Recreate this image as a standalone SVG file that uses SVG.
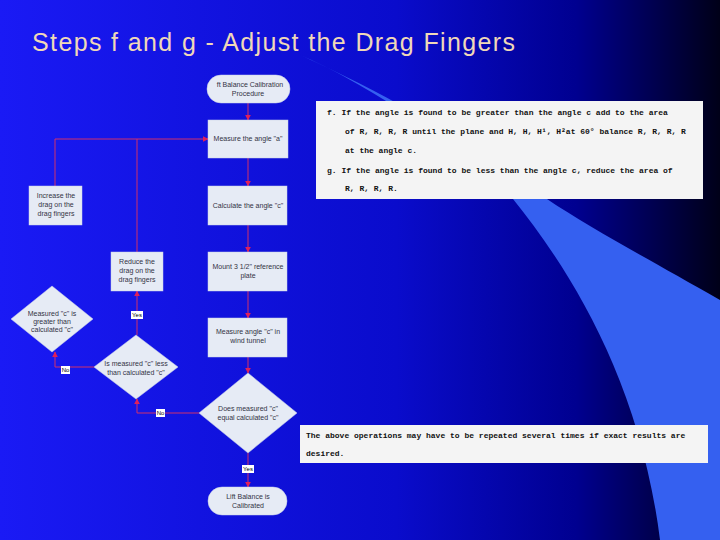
<svg xmlns="http://www.w3.org/2000/svg" width="720" height="540" viewBox="0 0 720 540">
<defs>
<linearGradient id="bg" x1="0" y1="0" x2="1" y2="0">
<stop offset="0" stop-color="#1a1af5"/><stop offset="0.55" stop-color="#0a0ccc"/><stop offset="0.8" stop-color="#000090"/><stop offset="1" stop-color="#000018"/>
</linearGradient>
<marker id="ah" viewBox="0 0 10 10" refX="9" refY="5" markerWidth="6" markerHeight="6" orient="auto"><path d="M0,0L10,5L0,10z" fill="#e0205a"/></marker>
<style>
.n{fill:#e6ebf5;stroke:#c8d0e8;stroke-width:0.5}
.t{font-family:"Liberation Sans",Arial,sans-serif;font-size:7px;fill:#334;text-anchor:middle}
.c{fill:none;stroke:#d0306a;stroke-width:1;marker-end:url(#ah)}
.l{fill:none;stroke:#d0306a;stroke-width:1}
.lb{fill:#fff}
.lt{font-family:"Liberation Sans",Arial,sans-serif;font-size:6px;fill:#000;text-anchor:middle}
.doc{fill:#f4f4f4}
.dt{font-family:"Liberation Mono","Courier New",monospace;font-size:8px;font-weight:bold;fill:#111}
</style>
</defs>
<rect width="720" height="540" fill="url(#bg)"/>
<path d="M300,55 C360,80 470,150 513,199 C570,270 640,380 660,540 L720,540 L720,300 C650,260 590,228 547,199 C480,150 400,100 300,55Z" fill="#3560f0"/>
<text x="32" y="51" font-family="Liberation Sans,Arial,sans-serif" font-size="25" fill="#f0d8b8" textLength="483">Steps f and g - Adjust the Drag Fingers</text>
<g id="connectors">
<path class="c" d="M248,103V120"/>
<path class="c" d="M248,158V186"/>
<path class="c" d="M248,225V252"/>
<path class="c" d="M248,291V318"/>
<path class="c" d="M248,357V373"/>
<path class="c" d="M248,453V487"/>
<path class="c" d="M55,186V139H208"/>
<path class="l" d="M137,252V139"/>
<path class="c" d="M137,335V291"/>
<path class="c" d="M94,367H55V352"/>
<path class="c" d="M199,413H137V399"/>
<rect class="lb" x="131" y="311" width="12" height="8"/><text class="lt" x="137" y="317">Yes</text>
<rect class="lb" x="61" y="366" width="9" height="8"/><text class="lt" x="65.5" y="372">No</text>
<rect class="lb" x="156" y="409" width="9" height="8"/><text class="lt" x="160.5" y="415">No</text>
<rect class="lb" x="242" y="465" width="12" height="8"/><text class="lt" x="248" y="471">Yes</text>
</g>
<g id="start"><rect class="n" x="207" y="75" width="83" height="28" rx="14"/><text class="t" x="250" y="87">ft Balance Calibration</text><text class="t" x="248" y="96">Procedure</text></g>
<g id="measure-a"><rect class="n" x="208" y="120" width="80" height="38"/><text class="t" x="248" y="141">Measure the angle "a"</text></g>
<g id="release"><rect class="n" x="29" y="186" width="53" height="39"/><text class="t" x="56" y="198">Increase the</text><text class="t" x="56" y="207">drag on the</text><text class="t" x="56" y="216">drag fingers</text></g>
<g id="calc"><rect class="n" x="208" y="186" width="79" height="39"/><text class="t" x="248" y="208">Calculate the angle "c"</text></g>
<g id="reduce"><rect class="n" x="111" y="252" width="52" height="39"/><text class="t" x="137" y="264">Reduce the</text><text class="t" x="137" y="273">drag on the</text><text class="t" x="137" y="282">drag fingers</text></g>
<g id="mount"><rect class="n" x="208" y="252" width="79" height="39"/><text class="t" x="248" y="269">Mount 3 1/2" reference</text><text class="t" x="248" y="278">plate</text></g>
<g id="greater"><path class="n" d="M52,286L93,319L52,352L11,319Z"/><text class="t" x="52" y="316">Measured "c" is</text><text class="t" x="52" y="324">greater than</text><text class="t" x="52" y="332">calculated "c"</text></g>
<g id="wind"><rect class="n" x="208" y="318" width="79" height="39"/><text class="t" x="248" y="334">Measure angle "c" in</text><text class="t" x="248" y="343">wind tunnel</text></g>
<g id="less"><path class="n" d="M136,335L178,367L136,399L94,367Z"/><text class="t" x="136" y="366">Is measured "c" less</text><text class="t" x="136" y="375">than calculated "c"</text></g>
<g id="equal"><path class="n" d="M248,373L297,413L248,453L199,413Z"/><text class="t" x="248" y="411">Does measured "c"</text><text class="t" x="248" y="420">equal calculated "c"</text></g>
<g id="end"><rect class="n" x="208" y="487" width="79" height="28" rx="14"/><text class="t" x="248" y="499">Lift Balance is</text><text class="t" x="248" y="508">Calibrated</text></g>
<g id="doc1"><rect class="doc" x="316" y="101" width="387" height="98"/>
<text class="dt" x="327" y="115">f.  If the angle is found to be greater than the angle c add to the area</text>
<text class="dt" x="345" y="134">of R, R, R, R until the plane and H, H, H¹, H²at 60° balance R, R, R, R</text>
<text class="dt" x="345" y="153">at the angle c.</text>
<text class="dt" x="327" y="173">g.  If the angle is found to be less than the angle c, reduce the area of</text>
<text class="dt" x="345" y="191">R, R, R, R.</text></g>
<g id="doc2"><rect class="doc" x="300" y="425" width="408" height="38"/>
<text class="dt" x="306" y="438">The above operations may have to be repeated several times if exact results are</text>
<text class="dt" x="306" y="456">desired.</text></g>
</svg>
